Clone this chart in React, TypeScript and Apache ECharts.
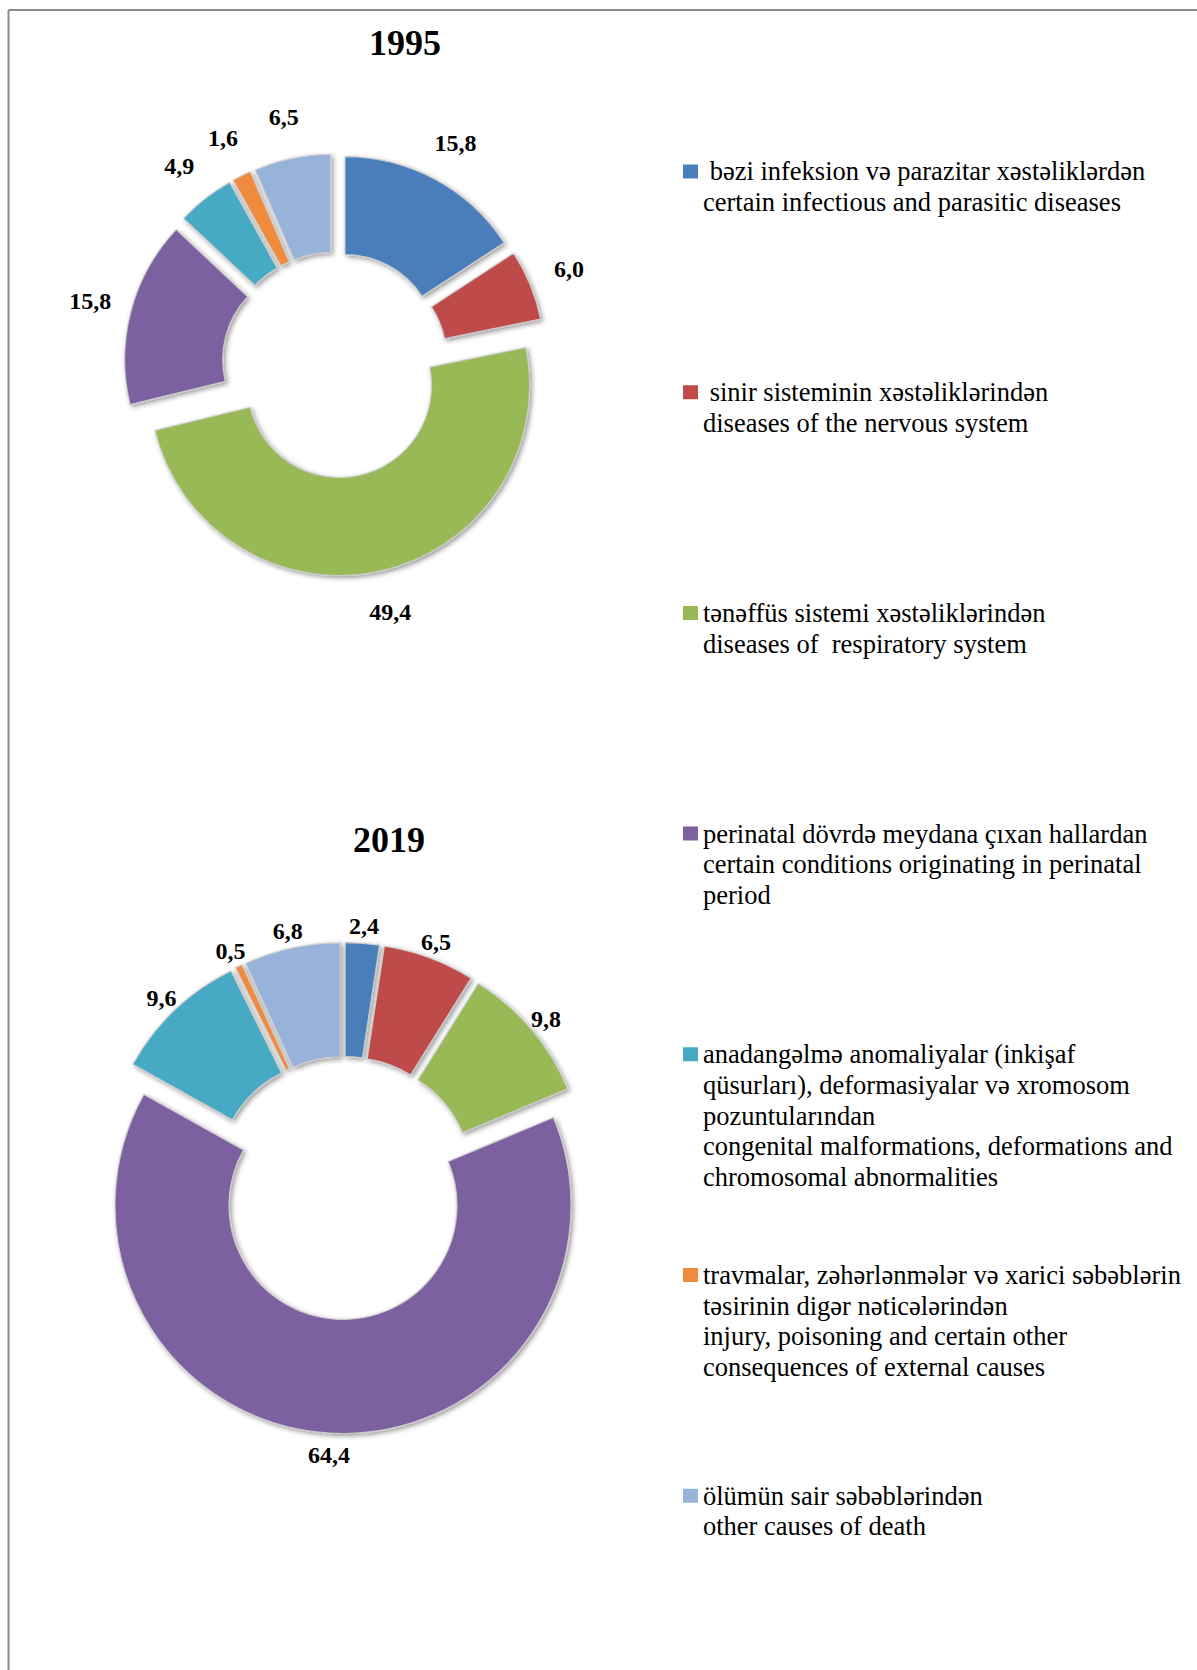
import React, { useEffect, useRef } from "react";
import * as echarts from "echarts";

// ---- data ----
const categories = [
  "bəzi infeksion və parazitar xəstəliklərdən",
  "sinir sisteminin xəstəliklərindən",
  "tənəffüs sistemi xəstəliklərindən",
  "perinatal dövrdə meydana çıxan hallardan",
  "anadangəlmə anomaliyalar",
  "travmalar, zəhərlənmələr və xarici səbəblərin",
  "ölümün sair səbəblərindən",
];

const legendLabels = [
  " bəzi infeksion və parazitar xəstəliklərdən\ncertain infectious and parasitic diseases",
  " sinir sisteminin xəstəliklərindən\ndiseases of the nervous system",
  "tənəffüs sistemi xəstəliklərindən\ndiseases of  respiratory system",
  "perinatal dövrdə meydana çıxan hallardan\ncertain conditions originating in perinatal\nperiod",
  "anadangəlmə anomaliyalar (inkişaf\nqüsurları), deformasiyalar və xromosom\npozuntularından\ncongenital malformations, deformations and\nchromosomal abnormalities",
  "travmalar, zəhərlənmələr və xarici səbəblərin\ntəsirinin digər nəticələrindən\ninjury, poisoning and certain other\nconsequences of external causes",
  "ölümün sair səbəblərindən\nother causes of death",
];

const values1995 = [15.8, 6.0, 49.4, 15.8, 4.9, 1.6, 6.5];
const values2019 = [2.4, 6.5, 9.8, 64.4, 9.6, 0.5, 6.8];

const years = ["1995", "2019"];

const colors = ["#4A7EBB", "#BE4B48", "#98B954", "#7D60A0", "#46AAC5", "#F08A3C", "#98B3DA"];

const SERIF = "'Liberation Serif', 'Times New Roman', serif";

function fmt(v: number) {
  return v.toFixed(1).replace(".", ",");
}

function makePie(values: number[], cx: number, cy: number, r0: number, r: number, offset: number) {
  return {
    type: "pie",
    center: [cx, cy],
    radius: [r0, r],
    startAngle: 90,
    clockwise: true,
    avoidLabelOverlap: false,
    selectedMode: "multiple",
    selectedOffset: offset,
    legendHoverLink: false,
    emphasis: { scale: false },
    itemStyle: {
      borderColor: "rgba(205,205,205,0.9)",
      borderWidth: 1.2,
      shadowBlur: 5,
      shadowColor: "rgba(0,0,0,0.4)",
      shadowOffsetX: 2,
      shadowOffsetY: 2,
    },
    label: { show: false },
    labelLine: { show: false },
    data: categories.map((name, i) => ({
      name,
      value: values[i],
      selected: true,
      itemStyle: { color: colors[i] },
    })),
  };
}

// transparent ring that only carries the value labels at radius rl
function makeLabelRing(values: number[], cx: number, cy: number, rl: number) {
  return {
    type: "pie",
    center: [cx, cy],
    radius: [rl - 1, rl + 1],
    startAngle: 90,
    clockwise: true,
    silent: true,
    avoidLabelOverlap: false,
    legendHoverLink: false,
    emphasis: { disabled: true },
    itemStyle: { color: "rgba(0,0,0,0)", borderWidth: 0 },
    label: {
      show: true,
      position: "inside",
      formatter: (p: any) => fmt(p.value),
      fontFamily: SERIF,
      fontWeight: "bold",
      fontSize: 24,
      color: "#000",
      textBorderWidth: 0,
    },
    labelLine: { show: false },
    data: categories.map((name, i) => ({ name, value: values[i] })),
  };
}

export default function App() {
  const ref = useRef<HTMLDivElement>(null);

  useEffect(() => {
    const prevMargin = document.body.style.margin;
    document.body.style.margin = "0";
    if (!ref.current) return;
    const chart = echarts.init(ref.current, undefined, { renderer: "svg" });

    const lh = 30.7;
    const legendFirst = 171.5;
    const legendStep = 220.7;
    const iconW = 15;
    const iconH = 14;

    const option: any = {
      animation: false,
      backgroundColor: "#ffffff",
      title: [
        {
          text: years[0],
          left: 405,
          top: 25,
          padding: 0,
          textAlign: "center",
          textVerticalAlign: "top",
          textStyle: { fontFamily: SERIF, fontWeight: "bold", fontSize: 36, color: "#000" },
        },
        {
          text: years[1],
          left: 389,
          top: 822,
          padding: 0,
          textAlign: "center",
          textVerticalAlign: "top",
          textStyle: { fontFamily: SERIF, fontWeight: "bold", fontSize: 36, color: "#000" },
        },
      ],
      legend: categories.map((name, i) => {
        const n = legendLabels[i].split("\n").length;
        const H = n * lh;
        const a = lh / 2 - iconH / 2;
        // square aligned with the first text line; thin invisible slivers keep the icon box full height
        const icon = `path://M0,0h${iconW}v0.01h-${iconW}Z M0,${a}h${iconW}v${iconH}h-${iconW}Z M0,${H - 0.01}h${iconW}v0.01h-${iconW}Z`;
        return {
          left: 683,
          top: legendFirst + i * legendStep - lh / 2,
          orient: "vertical",
          padding: 0,
          itemWidth: iconW,
          itemHeight: H,
          itemGap: 0,
          icon,
          selectedMode: false,
          itemStyle: { borderWidth: 0, shadowBlur: 0, shadowColor: "rgba(0,0,0,0)" },
          data: [name],
          formatter: () => legendLabels[i],
          textStyle: { fontFamily: SERIF, fontSize: 26.5, lineHeight: lh, color: "#000" },
        };
      }),
      graphic: [
        {
          type: "line",
          shape: { x1: 8.5, y1: 10, x2: 1197, y2: 10 },
          style: { stroke: "#8a8a8a", lineWidth: 2 },
          silent: true,
        },
        {
          type: "line",
          shape: { x1: 8.5, y1: 10, x2: 8.5, y2: 1670 },
          style: { stroke: "#8a8a8a", lineWidth: 2 },
          silent: true,
        },
      ],
      series: [
        makePie(values1995, 335, 365, 92, 190, 21),
        makeLabelRing(values1995, 335, 365, 250),
        makePie(values2019, 344, 1188, 114, 228, 17.5),
        makeLabelRing(values2019, 344, 1190, 262),
      ],
    };

    chart.setOption(option);
    return () => {
      chart.dispose();
      document.body.style.margin = prevMargin;
    };
  }, []);

  return <div ref={ref} style={{ width: 1197, height: 1670 }} />;
}
